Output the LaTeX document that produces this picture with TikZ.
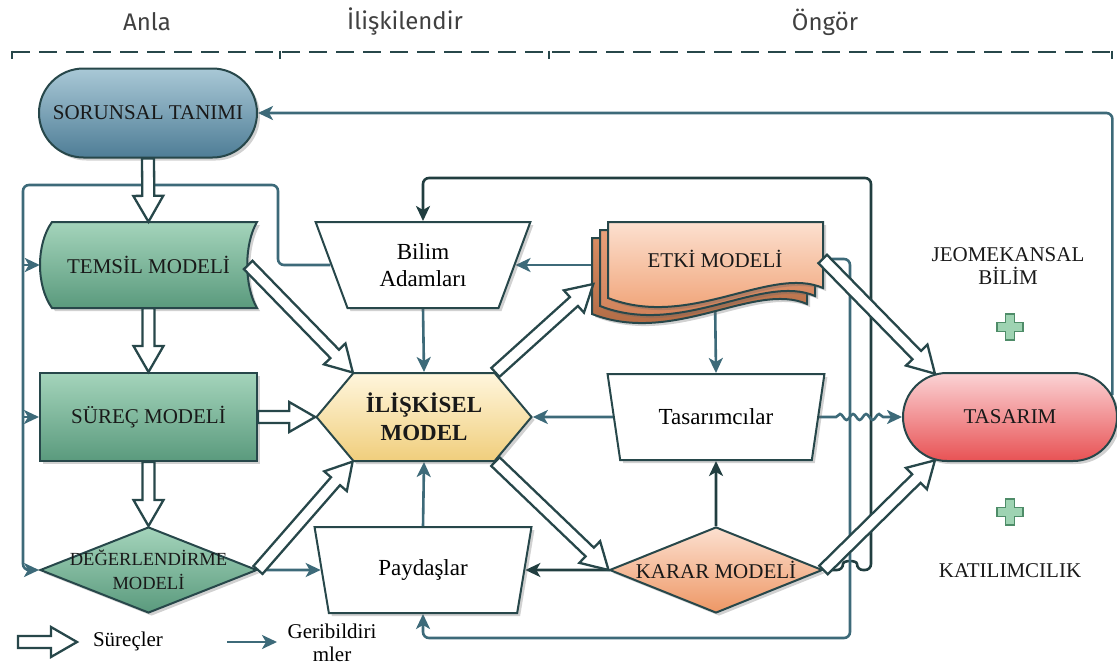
\documentclass[tikz,border=0pt]{standalone}
\usepackage{fontspec}
\setmainfont{Liberation Serif}
\newfontfamily\headfont{Fira Sans}
\usepackage{tikz}
\usetikzlibrary{arrows.meta,calc,shapes.geometric,shapes.misc,shapes.symbols,shadows,decorations.pathmorphing}
\definecolor{edge}{HTML}{27474A}
\definecolor{fbline}{HTML}{3D6A79}
\definecolor{fbdark}{HTML}{213E40}
\definecolor{blueTop}{HTML}{A9C8D6}
\definecolor{blueBot}{HTML}{4E7D96}
\definecolor{greenTop}{HTML}{A4D4BB}
\definecolor{greenBot}{HTML}{5A9A7D}
\definecolor{yellowTop}{HTML}{FFF6DD}
\definecolor{yellowBot}{HTML}{F0CE7C}
\definecolor{orangeTop}{HTML}{FCE0D0}
\definecolor{orangeBot}{HTML}{EE9765}
\definecolor{pageMidTop}{HTML}{E9A07A}
\definecolor{pageMidBot}{HTML}{C97A52}
\definecolor{pageBackTop}{HTML}{D88C62}
\definecolor{pageBackBot}{HTML}{A8643F}
\definecolor{redTop}{HTML}{FBD3D5}
\definecolor{redBot}{HTML}{E85254}
\definecolor{plusFill}{HTML}{9ED3B2}
\definecolor{plusEdge}{HTML}{4E8C68}
\def\shaft{6pt}
\def\wing{15pt}
\def\headlen{26pt}
\pgfdeclarelayer{back}
\pgfsetlayers{back,main}
\tikzset{softshadow/.style={drop shadow={shadow xshift=3pt, shadow yshift=-3pt, opacity=0.3, fill=black!60}}}
\tikzset{caps/.style={font=\fontsize{21}{24}\selectfont, text=black!90, align=center, inner sep=0pt}}
\tikzset{model/.style={caps, draw=edge, line width=2pt, softshadow}}
\tikzset{outline/.style={draw=edge, line width=2pt, softshadow}}
\tikzset{actor/.style={trapezium, trapezium stretches=true, draw=edge, line width=2pt, fill=white, align=center, font=\fontsize{23}{27}\selectfont, inner sep=0pt, softshadow}}
\tikzset{fback/.style={line width=2.6pt, fbline, -{Stealth[length=15pt, width=14pt, inset=4pt]}}}
\tikzset{fbackdark/.style={fback, fbdark}}
\tikzset{proc/.style={draw=edge, line width=2.3pt, fill=white, line join=miter}}
\tikzset{phase/.style={line width=2.7pt, edge, dash pattern=on 18pt off 9pt}}
\tikzset{header/.style={font=\headfont\fontsize{24}{28}\selectfont, text=black!75}}
\tikzset{plussign/.style={fill=plusFill, draw=plusEdge, line width=1.4pt}}
\newcommand{\procarrow}[2]{%
  \draw[proc] let \p1=(#1), \p2=(#2), \n1={atan2(\y2-\y1,\x2-\x1)},
      \n2={veclen(\x2-\x1,\y2-\y1)-\headlen} in
    ($(\p1)+(\n1-90:\shaft)$) -- ($(\p1)+(\n1:\n2)+(\n1-90:\shaft)$)
    -- ($(\p1)+(\n1:\n2)+(\n1-90:\wing)$) -- (\p2)
    -- ($(\p1)+(\n1:\n2)+(\n1+90:\wing)$) -- ($(\p1)+(\n1:\n2)+(\n1+90:\shaft)$)
    -- ($(\p1)+(\n1+90:\shaft)$) -- cycle;}

\begin{document}
\begin{tikzpicture}[x=1pt,y=-1pt]
\useasboundingbox (0,0) rectangle (1117,664);
\node[header] (anla) at (147,22) {Anla};
\node[header] (iliski) at (405,22) {İlişkilendir};
\node[header] (ongor) at (825,22) {Öngör};
\draw[phase] (12,52) -- (1112,52);
\foreach \x in {12,280,549,1112}
  \draw[line width=2.7pt, edge] (\x,50.65) -- (\x,59);

\node[model, rounded rectangle, minimum width=218, minimum height=89, top color=blueTop, bottom color=blueBot] (sorunsal) at (148,113) {SORUNSAL TANIMI};
\draw[outline, top color=greenTop, bottom color=greenBot] (52,222) -- (257,222) .. controls (244,244) and (244,286) .. (257,308) -- (52,308) .. controls (36,286) and (36,244) .. (52,222) -- cycle;
\node[caps, minimum width=217, minimum height=86] (temsil) at (148.5,265) {TEMSİL MODELİ};
\node[model, minimum width=217, minimum height=88, top color=greenTop, bottom color=greenBot] (surec) at (148.5,417) {SÜREÇ MODELİ};
\node[model, diamond, aspect=2.5, minimum width=217, minimum height=86, top color=greenTop, bottom color=greenBot, font=\fontsize{18.5}{24}\selectfont] (deger) at (148.5,570) {\makebox[0pt]{DEĞERLENDİRME}\\MODELİ};

\node[actor, trapezium left angle=113, trapezium right angle=113, minimum width=215, minimum height=86] (bilim) at (423,265) {Bilim\\Adamları};
\node[model, signal, signal to=west and east, signal pointer angle=100, minimum width=215, minimum height=88, top color=yellowTop, bottom color=yellowBot, font=\bfseries\fontsize{23}{28}\selectfont] (iliskisel) at (424,417) {İLİŞKİSEL\\MODEL};
\node[actor, trapezium left angle=108, trapezium right angle=108, minimum width=217, minimum height=86] (paydas) at (423,570) {Paydaşlar};

\foreach \d/\ct/\cb in {16/pageBackTop/pageBackBot, 8/pageMidTop/pageMidBot, 0/orangeTop/orangeBot}
  \draw[outline, top color=\ct, bottom color=\cb, shift={(-\d,\d)}] (608,222) -- (823,222) -- (823,288) .. controls (770,265) and (690,330) .. (608,298) -- cycle;
\node[caps, minimum width=215, minimum height=78] (etki) at (715,259) {ETKİ MODELİ};
\node[actor, trapezium left angle=115, trapezium right angle=115, minimum width=217, minimum height=86] (tasarimci) at (716,417) {Tasarımcılar};
\node[model, diamond, aspect=2.5, minimum width=213, minimum height=86, top color=orangeTop, bottom color=orangeBot] (karar) at (716,570) {KARAR MODELİ};

\node[model, rounded rectangle, minimum width=214, minimum height=88, top color=redTop, bottom color=redBot] (tasarim) at (1010,417) {TASARIM};
\node[caps, font=\fontsize{21}{23}\selectfont] (jeomekan) at (1008,266) {JEOMEKANSAL\\BİLİM};
\node[caps] (katilim) at (1010,571) {KATILIMCILIK};
\foreach \py in {327,512}
  \draw[plussign, shift={(1010,\py)}] (-4.5,-13) -- (4.5,-13) -- (4.5,-4.5) -- (13,-4.5) -- (13,4.5) -- (4.5,4.5) -- (4.5,13) -- (-4.5,13) -- (-4.5,4.5) -- (-13,4.5) -- (-13,-4.5) -- (-4.5,-4.5) -- cycle;

\coordinate (lgp1) at (18,642);
\coordinate (lgp2) at (77,642);
\coordinate (lgf1) at (227,642);
\coordinate (lgf2) at (277,642);
\node[font=\fontsize{21}{23}\selectfont] (surecler) at (128,641) {Süreçler};
\node[font=\fontsize{21}{23}\selectfont, align=center, inner sep=0pt] (geribildirim) at (332,643) {Geribildiri\\mler};

\coordinate (loopL) at (23,185);
\coordinate (loopR) at (278,185);
\coordinate (topR) at (871,178);
\coordinate (bottomR) at (850,638);

\begin{pgfonlayer}{back}
\draw[fback, rounded corners=6pt] (tasarim.12) |- (sorunsal.east);
\draw[fbackdark, rounded corners=6pt] (karar.east) -- (843,570) .. controls (843,560) and (857,560) .. (857,570) -- (topR |- karar.east) -- (topR) -| (bilim.north);
\draw[fback, rounded corners=6pt] (etki.east) -| (bottomR) -| (paydas.south);
\draw[fback, rounded corners=6pt] (bilim.west) -| (loopR) -- (loopL) |- (deger.west);
\draw[fback] (temsil.west -| loopL) -- (temsil.west);
\draw[fback] (surec.west -| loopL) -- (surec.west);
\draw[fback] (bilim.south) -- (iliskisel.north);
\draw[fback] (paydas.north) -- (iliskisel.south);
\draw[fback] (etki.west |- bilim.east) -- (bilim.east);
\draw[fback] (etki.south) -- (tasarimci.north);
\draw[fback] (tasarimci.west) -- (iliskisel.east);
\draw[fbackdark] (karar.north) -- (tasarimci.south);
\draw[fbackdark] (karar.west) -- (paydas.east);
\draw[fback] (deger.east) -- (paydas.west);
\draw[fback] (tasarimci.east) -- (836,417) decorate[decoration={snake, amplitude=3pt, segment length=13pt}] {-- (888,417)} -- (tasarim.west);
\draw[fback] (lgf1) -- (lgf2);
\end{pgfonlayer}

\procarrow{sorunsal.south}{temsil.north}
\procarrow{[xshift=-9pt]temsil.east}{iliskisel.148}
\procarrow{temsil.south}{surec.north}
\procarrow{surec.east}{iliskisel.west}
\procarrow{surec.south}{deger.north}
\procarrow{deger.east}{iliskisel.212}
\procarrow{iliskisel.32}{[xshift=-14pt,yshift=-25pt]etki.west}
\procarrow{iliskisel.328}{karar.west}
\procarrow{etki.east}{tasarim.150}
\procarrow{karar.east}{tasarim.210}
\procarrow{lgp1}{lgp2}
\end{tikzpicture}
\end{document}
